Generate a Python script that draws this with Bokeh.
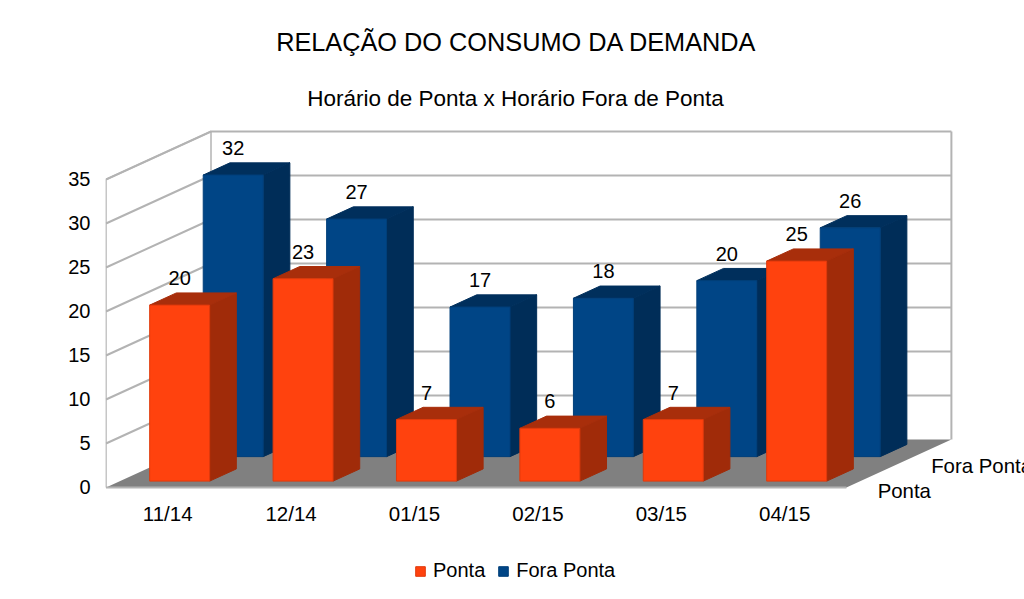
from bokeh.embed import file_html
from bokeh.resources import INLINE
from bokeh.plotting import figure
from bokeh.models import FixedTicker, Legend, LegendItem, Range1d
from bokeh.core.properties import value

categories = ["11/14", "12/14", "01/15", "02/15", "03/15", "04/15"]
ponta = [20, 23, 7, 6, 7, 25]
fora_ponta = [32, 27, 17, 18, 20, 26]
y_ticks = [0, 5, 10, 15, 20, 25, 30, 35]
title_text = "RELAÇÃO DO CONSUMO DA DEMANDA"
subtitle_text = "Horário de Ponta x Horário Fora de Ponta"
series_names = ["Ponta", "Fora Ponta"]

FONT = value("Liberation Sans")
# page-pixel geometry of the projection
PX_X0, PX_Y0 = 105.5, 487.0
PX_CAT, PX_UNIT = 123.4, 8.8
PX_DX, PX_DY = 105.0, 48.0
LEFT, FRAME_W, FRAME_H = 105, 919, 599
DX = PX_DX / PX_CAT      # depth shift in category units
DY = PX_DY / PX_UNIT     # depth shift in value units
BAR_W = 0.486
BAR_SHIFT = -2 / PX_CAT
N = len(categories)


def X(px):
    return (px - PX_X0) / PX_CAT


def Y(py):
    return (PX_Y0 - py) / PX_UNIT


p = figure(
    frame_width=FRAME_W, frame_height=FRAME_H, width=1024, height=599,
    output_backend="svg", toolbar_location=None,
    x_range=Range1d(X(LEFT), X(LEFT + FRAME_W)),
    y_range=Range1d(Y(FRAME_H), Y(0)),
    min_border_left=LEFT, min_border_right=0, min_border_top=0, min_border_bottom=0,
)
p.extra_y_ranges = {"labels": Range1d(Y(FRAME_H) - 1 / PX_UNIT, Y(0) - 1 / PX_UNIT)}
p.outline_line_color = None
p.grid.visible = False
p.background_fill_color = "white"

# walls and floor
WALL = "#b3b3b3"
top = y_ticks[-1]
p.patch([0, DX, N + DX, N], [0, DY, DY, 0], fill_color="#808080", line_color=None)
p.multi_line(
    [[0, DX, N + DX] for v in y_ticks[1:]],
    [[v, v + DY, v + DY] for v in y_ticks[1:]],
    line_color=WALL, line_width=2,
)
p.line([0, 0, DX, DX], [0, top, top + DY, DY], line_color=WALL, line_width=1.5)
p.line([N + DX, N + DX], [DY, top + DY], line_color=WALL, line_width=2)
p.line([0, N], [0, 0], line_color=WALL, line_width=2)


def bars(values, depth_start, depth_len, front, side, roof, edge):
    xs0 = [i + 0.5 - BAR_W / 2 + BAR_SHIFT + depth_start * DX for i in range(N)]
    xs1 = [x + BAR_W for x in xs0]
    y0 = depth_start * DY
    ex, ey = depth_len * DX, depth_len * DY
    tops = [y0 + v for v in values]
    p.patches(
        [[b, b + ex, b + ex, b] for b in xs1],
        [[y0, y0 + ey, t + ey, t] for t in tops],
        fill_color=side, line_color=side, line_width=1,
    )
    p.patches(
        [[a, a + ex, b + ex, b] for a, b in zip(xs0, xs1)],
        [[t, t + ey, t + ey, t] for t in tops],
        fill_color=roof, line_color=roof, line_width=1,
    )
    r = p.patches(
        [[a, b, b, a] for a, b in zip(xs0, xs1)],
        [[y0, y0, t, t] for t in tops],
        fill_color=front, line_color=edge, line_width=1,
    )
    p.text(
        [(a + b) / 2 for a, b in zip(xs0, xs1)],
        [t + 27 / PX_UNIT for t in tops],
        text=[str(v) for v in values],
        text_font=FONT, text_font_size="20px", text_color="black",
        text_align="center", text_baseline="middle",
    )
    return r


r_fora = bars(fora_ponta, 0.643, 0.254, "#004586", "#002d58", "#002f5c", "#003f7a")
r_ponta = bars(ponta, 0.133, 0.254, "#ff420e", "#a02b09", "#a82e0b", "#e03a0c")

# depth-axis labels
p.text(
    [N + 0.25 * DX + 5 / PX_CAT, N + 0.75 * DX + 6 / PX_CAT],
    [0.25 * DY - 15 / PX_UNIT, 0.75 * DY - 14 / PX_UNIT],
    text=series_names, text_font=FONT, text_font_size="20.4px",
    text_color="black", text_align="left", text_baseline="middle",
)

# titles
p.text([X(516)], [Y(41)], text=[title_text], text_font=FONT, text_font_size="25.3px",
       text_color="black", text_align="center", text_baseline="middle")
p.text([X(515)], [Y(98)], text=[subtitle_text], text_font=FONT, text_font_size="22.5px",
       text_color="black", text_align="center", text_baseline="middle")

# axes
ya = p.yaxis[0]
ya.y_range_name = "labels"
ya.ticker = FixedTicker(ticks=y_ticks)
ya.axis_line_color = None
ya.major_tick_line_color = None
ya.minor_tick_line_color = None
ya.major_label_standoff = 9
ya.major_label_text_font = "Liberation Sans"
ya.major_label_text_font_size = "20px"
ya.major_label_text_color = "black"

xa = p.xaxis[0]
xa.fixed_location = Y(493)
xa.ticker = FixedTicker(ticks=[i + 0.5 for i in range(N)])
xa.major_label_overrides = {i + 0.5: c for i, c in enumerate(categories)}
xa.axis_line_color = None
xa.major_tick_line_color = None
xa.minor_tick_line_color = None
xa.major_label_standoff = 2
xa.major_label_text_font = "Liberation Sans"
xa.major_label_text_font_size = "20.5px"
xa.major_label_text_color = "black"

legend = Legend(
    items=[LegendItem(label=series_names[0], renderers=[r_ponta]),
           LegendItem(label=series_names[1], renderers=[r_fora])],
    orientation="horizontal", location=(309, 17), margin=0, padding=0,
    spacing=12, glyph_width=12, glyph_height=12, label_standoff=7,
    label_text_font="Liberation Sans", label_text_font_size="20px",
    label_text_color="black", border_line_color=None, background_fill_color=None,
)
legend.click_policy = "none"
p.add_layout(legend, "center")

open("out.html", "w").write(file_html(p, INLINE))
